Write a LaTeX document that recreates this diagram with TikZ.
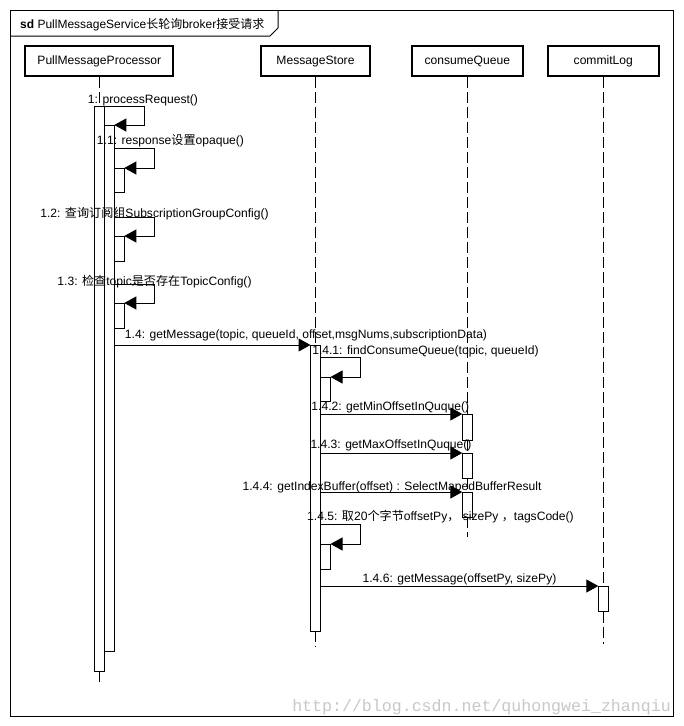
\documentclass[tikz,border=0pt]{standalone}
\usepackage{fontspec}
\setmainfont{Liberation Sans}
\newfontfamily\cjk{Noto Sans CJK SC}
\newfontfamily\wmfont{Liberation Mono}
\usetikzlibrary{arrows.meta}
\definecolor{wmgray}{RGB}{200,200,200}
\begin{document}
\begin{tikzpicture}[x=1pt,y=-1pt,
  lbl/.style={font=\fontsize{12.1}{14}\selectfont, inner sep=0pt, anchor=base},
  headbox/.style={draw, line width=1.8pt, minimum height=30pt, inner sep=0pt,
    font=\fontsize{12.1}{14}\selectfont, text height=9pt, text depth=3pt},
  lifeline/.style={line width=1pt, dash pattern=on 11pt off 4pt},
  actbar/.style={draw, fill=white, line width=1pt, minimum width=10pt,
    inner sep=0pt, outer sep=0pt, anchor=north},
  msg/.style={line width=1pt, -{Triangle[length=12pt,width=13pt]}},
]
\useasboundingbox (0,0) rectangle (684,726);
\fill[white] (0,0) rectangle (684,726);

% frame
\draw[line width=1pt] (10,10) rectangle (673,716);
\draw[line width=1pt] (10,36) -- (270,36) -- (278,28) -- (278,10);
\node[anchor=base west, inner sep=0pt, font=\fontsize{12}{14}\selectfont] (title) at (20,28.5)
  {\textbf{sd} PullMessageService{\cjk 长轮询}broker{\cjk 接受请求}};

% heads
\node[headbox, minimum width=148pt] (hpmp) at (99.3,61) {PullMessageProcessor};
\node[headbox, minimum width=109pt] (hms) at (315.5,61) {MessageStore};
\node[headbox, minimum width=111pt] (hcq) at (467.3,61) {consumeQueue};
\node[headbox, minimum width=111pt] (hcl) at (603.3,61) {commitLog};

% lifeline ends
\coordinate (pmpEnd) at (99.3,682);
\coordinate (msEnd) at (315.5,647);
\coordinate (cqEnd) at (467.3,537);
\coordinate (clEnd) at (603.3,644);

% activation bars
\node[actbar, minimum height=564.3pt] (b0) at (99.3,106.7) {};
\node[actbar, minimum height=526.3pt] (b1) at (109.3,125) {};
\node[actbar, minimum height=24pt] (b11) at (119.3,168) {};
\node[actbar, minimum height=25pt] (b12) at (119.3,236) {};
\node[actbar, minimum height=25pt] (b13) at (119.3,303) {};
\node[actbar, minimum height=286.3pt] (bms) at (315.5,345) {};
\node[actbar, minimum height=24.7pt] (b141) at (325.5,377) {};
\node[actbar, minimum height=26pt] (bq2) at (467.3,414) {};
\node[actbar, minimum height=25pt] (bq3) at (467.3,453) {};
\node[actbar, minimum height=25pt] (bq4) at (467.3,492) {};
\node[actbar, minimum height=25pt] (b145) at (325.5,544) {};
\node[actbar, minimum height=25.7pt] (bcl) at (603.3,586) {};

% lifelines (segments between activations)
\draw[lifeline] (hpmp.south) -- (b0.north);
\draw[lifeline] (b0.south) -- (pmpEnd);
\draw[lifeline] (hms.south) -- (bms.north);
\draw[lifeline] (bms.south) -- (msEnd);
\draw[lifeline] (hcq.south) -- (bq2.north);
\draw[lifeline] (bq2.south) -- (bq3.north);
\draw[lifeline] (bq3.south) -- (bq4.north);
\draw[lifeline] (bq4.south) -- (cqEnd);
\draw[lifeline] (hcl.south) -- (bcl.north);
\draw[lifeline] (bcl.south) -- (clEnd);

% messages
\draw[msg] (b0.north east) -- ++(40,0) |- (b1.north east);
\draw[msg] (b1.east |- b11.north) ++(0,-20) -- ++(40,0) |- (b11.north east);
\draw[msg] (b1.east |- b12.north) ++(0,-19) -- ++(40,0) |- (b12.north east);
\draw[msg] (b1.east |- b13.north) ++(0,-19) -- ++(40,0) |- (b13.north east);
\draw[msg] (b1.east |- bms.north) -- (bms.north west);
\draw[msg] (bms.east |- b141.north) ++(0,-20) -- ++(40,0) |- (b141.north east);
\draw[msg] (bms.east |- bq2.north) -- (bq2.north west);
\draw[msg] (bms.east |- bq3.north) -- (bq3.north west);
\draw[msg] (bms.east |- bq4.north) -- (bq4.north west);
\draw[msg] (bms.east |- b145.north) ++(0,-20) -- ++(40,0) |- (b145.north east);
\draw[msg] (bms.east |- bcl.north) -- (bcl.north west);

% labels
\node[lbl] (l1) at (143,103) {1: processRequest()};
\node[lbl] (l11) at (170.5,144) {1.1: response{\cjk 设置}opaque()};
\node[lbl] (l12) at (154.5,217.5) {1.2: {\cjk 查询订阅组}SubscriptionGroupConfig()};
\node[lbl] (l13) at (154.5,285) {1.3: {\cjk 检查}topic{\cjk 是否存在}TopicConfig()};
\node[lbl] (l14) at (306,338.5) {1.4: getMessage(topic, queueId, offset,msgNums,subscriptionData)};
\node[lbl] (l141) at (425.5,354) {1.4.1: findConsumeQueue(topic, queueId)};
\node[lbl] (l142) at (390.3,410.5) {1.4.2: getMinOffsetInQuque()};
\node[lbl] (l143) at (391,448.3) {1.4.3: getMaxOffsetInQuque()};
\node[lbl] (l144) at (392,490) {1.4.4: getIndexBuffer(offset) : SelectMapedBufferResult};
\node[lbl] (l145) at (440.5,520) {1.4.5: {\cjk 取}20{\cjk 个字节}offsetPy{\cjk ，} sizePy {\cjk ，}tagsCode()};
\node[lbl] (l146) at (459.5,582.7) {1.4.6: getMessage(offsetPy, sizePy)};

% watermark
\node[anchor=base east, inner sep=0pt, font=\wmfont\fontsize{16.6}{18}\selectfont, text=wmgray] (wm)
  at (671,711) {http://blog.csdn.net/quhongwei\_zhanqiu};
\end{tikzpicture}
\end{document}
